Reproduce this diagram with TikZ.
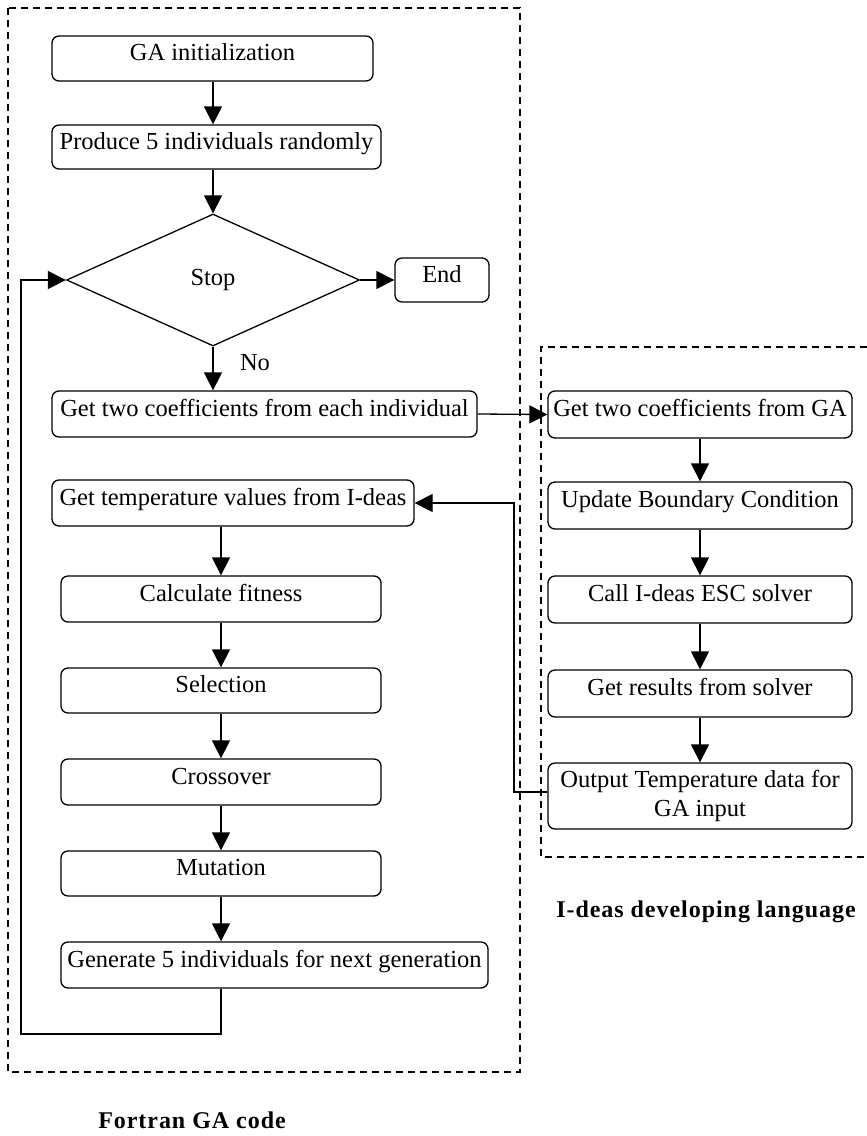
\documentclass[tikz,border=0pt]{standalone}
\usepackage{fontspec}
\setmainfont{Liberation Serif}
\newfontfamily\labfont[LetterSpace=4]{Liberation Serif}
\usetikzlibrary{shapes.geometric,arrows.meta}
\begin{document}
\begin{tikzpicture}[x=1pt,y=-1pt,
  every node/.style={font=\fontsize{24.5}{29}\selectfont},
  box/.style={draw,line width=1.3pt,rounded corners=7pt,inner sep=1pt,
    text height=0.7em,text depth=0.3em},
  cond/.style={draw,line width=1.3pt,shape=diamond,inner sep=0pt,
    minimum width=293pt,minimum height=132pt},
  arr/.style={line width=1.3pt,-{Triangle[length=18pt,width=18pt]}},
  ln/.style={line width=1.3pt},
  dashbox/.style={line width=2pt,dash pattern=on 7pt off 5pt},
  grp/.style={font=\fontsize{24}{28}\selectfont\labfont\bfseries}]
\useasboundingbox (0,0) rectangle (867,1136);
% group frames
\draw[dashbox] (8,8) rectangle (520,1072);
\draw[dashbox] (867,347) -- (541,347) -- (541,857) -- (867,857);
% left column
\node[box,minimum width=321pt,minimum height=45pt] (ga) at (212.5,58.5) {GA initialization};
\node[box,minimum width=329pt,minimum height=44pt] (prod) at (216.5,147) {Produce 5 individuals randomly};
\node[cond] (stop) at (213,280) {Stop};
\node[box,minimum width=94pt,minimum height=44pt] (end) at (442,280) {End};
\node[box,minimum width=425pt,minimum height=46pt] (coef) at (264.5,414) {Get two coefficients from each individual};
\node[box,minimum width=362pt,minimum height=46pt] (temp) at (233,503) {Get temperature values from I-deas};
\node[box,minimum width=320pt,minimum height=46pt] (fit) at (221,599) {Calculate fitness};
\node[box,minimum width=320pt,minimum height=45pt] (sel) at (221,690.5) {Selection};
\node[box,minimum width=320pt,minimum height=46pt] (cross) at (221,782) {Crossover};
\node[box,minimum width=320pt,minimum height=45pt] (mut) at (221,873.5) {Mutation};
\node[box,minimum width=427pt,minimum height=46pt] (gen) at (274.5,965) {Generate 5 individuals for next generation};
\node (no) at (255,363) {No};
% right column
\node[box,minimum width=304pt,minimum height=47pt] (rga) at (700,414.5) {Get two coefficients from GA};
\node[box,minimum width=304pt,minimum height=47pt] (upd) at (700,505.5) {Update Boundary Condition};
\node[box,minimum width=304pt,minimum height=47pt] (call) at (700,599.5) {Call I-deas ESC solver};
\node[box,minimum width=304pt,minimum height=47pt] (res) at (700,693.5) {Get results from solver};
\node[box,minimum width=304pt,minimum height=66pt,align=center,text height=,text depth=] (out) at (700,796) {Output Temperature data for\\GA input};
% group labels
\node[grp] (lf) at (192,1120) {Fortran GA code};
\node[grp] (lr) at (706,912) {I-deas developing language};
% connectors
\draw[arr] (ga.south -| stop.north) -- (prod.north -| stop.north);
\draw[arr] (prod.south -| stop.north) -- (stop.north);
\draw[arr] (stop.east) -- (end.west);
\draw[arr] (stop.south) -- (stop.south |- coef.north);
\draw[arr] (coef.east) -- (rga.west);
\draw[arr] (temp.south -| fit.north) -- (fit.north);
\draw[arr] (fit) -- (sel);
\draw[arr] (sel) -- (cross);
\draw[arr] (cross) -- (mut);
\draw[arr] (mut.south) -- (mut.south |- gen.north);
\coordinate (lb) at (21,1034);
\draw[arr] (gen.south -| mut.south) |- (lb) |- (stop.west);
\draw[arr] (rga) -- (upd);
\draw[arr] (upd) -- (call);
\draw[arr] (call) -- (res);
\draw[arr] (res) -- (out);
\coordinate (fb) at (514,792);
\draw[arr] (out.west |- fb) -- (fb) |- (temp.east);
\end{tikzpicture}
\end{document}
